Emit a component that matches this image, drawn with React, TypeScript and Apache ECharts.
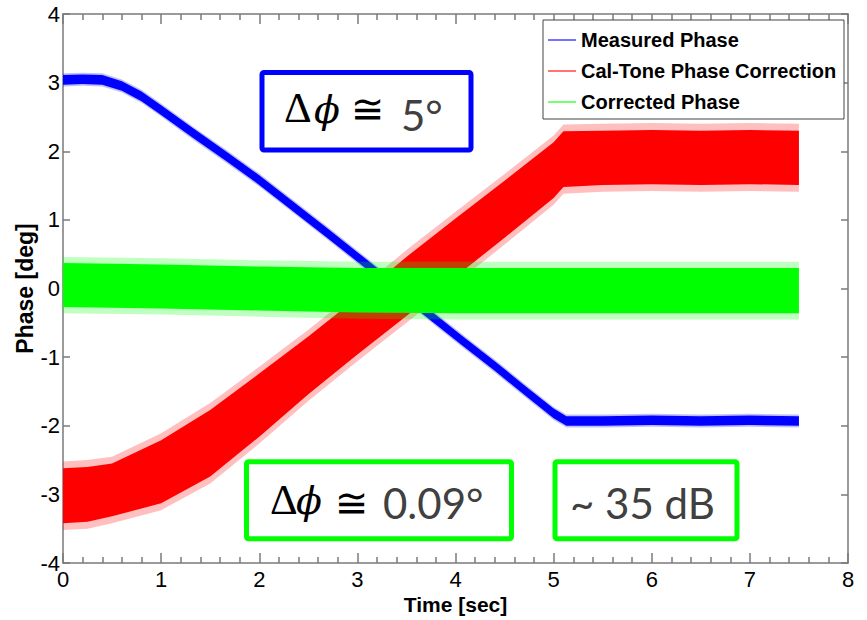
import React, { useEffect, useRef } from "react";
import * as echarts from "echarts";

// ---- Data ----
// Measured phase (blue): centre of the noisy trace
const MEASURED_TIME = [0, 0.2, 0.4, 0.6, 0.8, 1.0, 1.33, 1.67, 2.0, 2.35, 2.7, 3.0, 3.35, 3.7, 4.05, 4.4, 4.72, 5.0, 5.13, 5.5, 6.0, 6.5, 7.0, 7.5];
const MEASURED = [3.04, 3.05, 3.04, 2.95, 2.8, 2.6, 2.26, 1.92, 1.58, 1.19, 0.8, 0.46, 0.06, -0.34, -0.74, -1.13, -1.5, -1.82, -1.93, -1.93, -1.92, -1.93, -1.92, -1.93];
const MEASURED_HALF_SPREAD = 0.07;

// Cal-tone phase correction (red): upper and lower edges of the noise band
const CALTONE_TIME = [0, 0.25, 0.5, 1.0, 1.5, 2.0, 2.5, 3.0, 3.5, 4.0, 4.5, 5.0, 5.1, 5.5, 6.0, 6.5, 7.0, 7.5];
const CALTONE_HI = [-2.62, -2.6, -2.55, -2.21, -1.77, -1.24, -0.7, -0.13, 0.46, 1.02, 1.57, 2.13, 2.29, 2.3, 2.31, 2.3, 2.31, 2.3];
const CALTONE_LO = [-3.42, -3.4, -3.32, -3.13, -2.74, -2.16, -1.54, -0.96, -0.4, 0.17, 0.74, 1.32, 1.48, 1.51, 1.52, 1.51, 1.52, 1.51];

// Corrected phase (green): upper and lower edges of the noise band
const CORRECTED_TIME = [0, 1, 2, 3, 4, 5, 6, 7, 7.5];
const CORRECTED_HI = [0.37, 0.35, 0.32, 0.3, 0.3, 0.3, 0.3, 0.3, 0.3];
const CORRECTED_LO = [-0.27, -0.29, -0.32, -0.35, -0.36, -0.36, -0.36, -0.36, -0.36];

const SERIES_NAMES = ["Measured Phase", "Cal-Tone Phase Correction", "Corrected Phase"];
const SERIES_COLORS = ["#0000ff", "#ff0000", "#00ff00"];
const LEGEND_COLORS = ["#7474ff", "#ff7474", "#74ff74"];

const X_MIN = 0, X_MAX = 8, X_STEP = 1;
const Y_MIN = -4, Y_MAX = 4, Y_STEP = 1;

const X_NAME = "Time [sec]";
const Y_NAME = "Phase [deg]";

function makeBand(times: number[], lo: number[], hi: number[], fringe: number, color: string) {
  return (params: any, api: any) => {
    if (params.dataIndex !== 0) return null;
    const outer: number[][] = [];
    const inner: number[][] = [];
    for (let i = 0; i < times.length; i++) {
      outer.push(api.coord([times[i], hi[i] + fringe]));
      inner.push(api.coord([times[i], hi[i]]));
    }
    for (let i = times.length - 1; i >= 0; i--) {
      outer.push(api.coord([times[i], lo[i] - fringe]));
      inner.push(api.coord([times[i], lo[i]]));
    }
    return {
      type: "group",
      children: [
        { type: "polygon", shape: { points: outer }, style: { fill: color, opacity: 0.25 } },
        { type: "polygon", shape: { points: inner }, style: { fill: color } },
      ],
    };
  };
}

export default function App() {
  const ref = useRef<HTMLDivElement>(null);

  useEffect(() => {
    if (!ref.current) return;
    const chart = echarts.init(ref.current, undefined, { renderer: "svg" });

    const measuredLo = MEASURED.map((v) => v - MEASURED_HALF_SPREAD);
    const measuredHi = MEASURED.map((v) => v + MEASURED_HALF_SPREAD);

    const bands = [
      { t: MEASURED_TIME, lo: measuredLo, hi: measuredHi, fringe: 0.025 },
      { t: CALTONE_TIME, lo: CALTONE_LO, hi: CALTONE_HI, fringe: 0.1 },
      { t: CORRECTED_TIME, lo: CORRECTED_LO, hi: CORRECTED_HI, fringe: 0.09 },
    ];

    const axisLineStyle = { color: "#7a7a7a", width: 1.5 };
    const labelFont = { color: "#000", fontFamily: "Liberation Sans, Arial, sans-serif", fontSize: 22 };

    const xCommon = {
      type: "value",
      min: X_MIN,
      max: X_MAX,
      interval: X_STEP,
      axisLine: { show: true, onZero: false, lineStyle: axisLineStyle },
      axisTick: { show: true, inside: true, length: 10, lineStyle: axisLineStyle },
      minorTick: { show: true, splitNumber: 5, length: 6, lineStyle: axisLineStyle },
      splitLine: { show: false },
      minorSplitLine: { show: false },
    };
    const yCommon = {
      type: "value",
      min: Y_MIN,
      max: Y_MAX,
      interval: Y_STEP,
      axisLine: { show: true, onZero: false, lineStyle: axisLineStyle },
      axisTick: { show: true, inside: true, length: 7, lineStyle: axisLineStyle },
      splitLine: { show: false },
    };

    const textFamilySerif = "Liberation Serif, DejaVu Serif, serif";
    const numFamily = "Lato, Open Sans, sans-serif";

    const annot = (parts: any[]) =>
      parts.map((p) => ({
        type: "text",
        x: p.x,
        y: p.y,
        z: 100,
        style: {
          text: p.text,
          fontFamily: p.family,
          fontSize: p.size,
          fontStyle: p.italic ? "italic" : "normal",
          fill: p.color || "#000",
          align: "left",
          verticalAlign: "middle",
        },
      }));

    const option: any = {
      animation: false,
      backgroundColor: "#ffffff",
      grid: { left: 63, right: 19, top: 14, bottom: 57, containLabel: false },
      legend: {
        orient: "vertical",
        left: 543,
        top: 20,
        padding: [10, 6, 7, 5],
        itemGap: 11,
        itemWidth: 28,
        itemHeight: 2,
        icon: "rect",
        borderColor: "#444",
        borderWidth: 1,
        backgroundColor: "#fff",
        z: 50,
        textStyle: {
          color: "#000",
          fontFamily: "Liberation Sans, Arial, sans-serif",
          fontWeight: "bold",
          fontSize: 20,
          lineHeight: 20,
          width: 257,
        },
        data: SERIES_NAMES.map((n, i) => ({ name: n, itemStyle: { color: LEGEND_COLORS[i] } })),
      },
      xAxis: [
        {
          ...xCommon,
          position: "bottom",
          axisLabel: { ...labelFont, margin: 5 },
          name: X_NAME,
          nameLocation: "middle",
          nameGap: 31,
          nameMoveOverlap: false,
          nameTextStyle: { color: "#000", fontFamily: "Liberation Sans, Arial, sans-serif", fontWeight: "bold", fontSize: 21 },
        },
        { ...xCommon, position: "top", axisLabel: { show: false } },
      ],
      yAxis: [
        {
          ...yCommon,
          position: "left",
          axisLabel: { ...labelFont, margin: 3 },
          name: Y_NAME,
          nameLocation: "middle",
          nameGap: 27,
          nameMoveOverlap: false,
          nameTextStyle: { color: "#000", fontFamily: "Liberation Sans, Arial, sans-serif", fontWeight: "bold", fontSize: 23 },
        },
        { ...yCommon, position: "right", axisLabel: { show: false } },
      ],
      series: bands.map((b, i) => ({
        type: "custom",
        name: SERIES_NAMES[i],
        xAxisIndex: 0,
        yAxisIndex: 0,
        itemStyle: { color: SERIES_COLORS[i] },
        renderItem: makeBand(b.t, b.lo, b.hi, b.fringe, SERIES_COLORS[i]),
        encode: { x: 0, y: [1, 2] },
        data: b.t.map((t, k) => [t, b.lo[k], b.hi[k]]),
        z: 2 + i,
      })),
      graphic: [
        { type: "rect", z: 90, shape: { x: 262, y: 72.5, width: 209, height: 77.5, r: 2 }, style: { fill: "none", stroke: "#0000ff", lineWidth: 5 } },
        { type: "rect", z: 90, shape: { x: 246.5, y: 461.7, width: 265, height: 77, r: 2 }, style: { fill: "none", stroke: "#00ff00", lineWidth: 5 } },
        { type: "rect", z: 90, shape: { x: 555, y: 461.7, width: 182, height: 77, r: 2 }, style: { fill: "none", stroke: "#00ff00", lineWidth: 5 } },
        ...annot([
          { text: "Δ", x: 284, y: 107, family: textFamilySerif, size: 43 },
          { text: "ϕ", x: 314, y: 110, family: "DejaVu Serif, serif", size: 38, italic: true },
          { text: "≅", x: 351, y: 109, family: "DejaVu Sans, sans-serif", size: 40 },
          { text: "5°", x: 401, y: 115, family: numFamily, size: 42, color: "#404040" },
          { text: "Δ", x: 270, y: 499, family: textFamilySerif, size: 43 },
          { text: "ϕ", x: 296, y: 501, family: "DejaVu Serif, serif", size: 38, italic: true },
          { text: "≅", x: 335, y: 503, family: "DejaVu Sans, sans-serif", size: 40 },
          { text: "0.09°", x: 383, y: 503, family: numFamily, size: 42, color: "#404040" },
          { text: "~ 35 dB", x: 570, y: 503, family: numFamily, size: 42, color: "#404040" },
        ]),
      ],
    };

    chart.setOption(option);
    return () => chart.dispose();
  }, []);

  return (
    <div
      ref={ref}
      style={{ position: "fixed", left: 0, top: 0, width: 867, height: 620, background: "#fff" }}
    />
  );
}
